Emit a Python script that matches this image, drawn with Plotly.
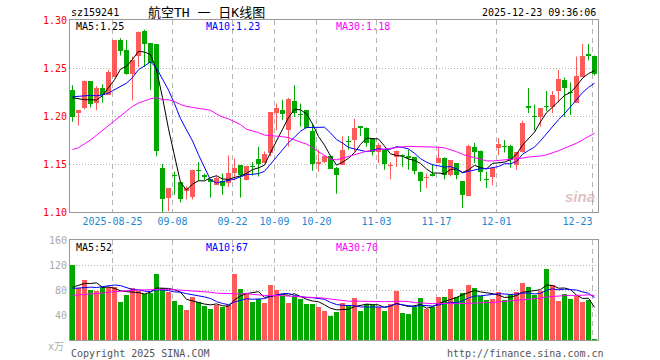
import numpy as np
import plotly.graph_objects as go

# ---------------- data ----------------
opens = [1.227, 1.203, 1.208, 1.236, 1.214, 1.229, 1.222, 1.241, 1.279, 1.269,
         1.244, 1.263, 1.289, 1.276, 1.275, 1.146, 1.115, 1.138, 1.131, 1.122,
         1.116, 1.144, 1.139, 1.134, 1.128, 1.132, 1.130, 1.141, 1.149, 1.133,
         1.148, 1.155, 1.151, 1.161, 1.203, 1.206, 1.185, 1.216, 1.202, 1.206,
         1.184, 1.150, 1.152, 1.158, 1.146, 1.149, 1.174, 1.175, 1.189, 1.187,
         1.176, 1.162, 1.165, 1.148, 1.157, 1.159, 1.158, 1.157, 1.142, 1.135,
         1.140, 1.151, 1.156, 1.139, 1.151, 1.132, 1.117, 1.168, 1.164, 1.134,
         1.136, 1.167, 1.169, 1.169, 1.149, 1.162, 1.210, 1.200, 1.199, 1.210,
         1.209, 1.226, 1.238, 1.225, 1.214, 1.241, 1.265, 1.263]
highs = [1.232, 1.206, 1.237, 1.236, 1.231, 1.233, 1.248, 1.279, 1.281, 1.279,
         1.262, 1.288, 1.290, 1.276, 1.275, 1.150, 1.125, 1.142, 1.131, 1.127,
         1.144, 1.152, 1.140, 1.134, 1.137, 1.140, 1.159, 1.156, 1.149, 1.148,
         1.152, 1.168, 1.163, 1.204, 1.213, 1.217, 1.219, 1.232, 1.213, 1.206,
         1.191, 1.165, 1.158, 1.158, 1.147, 1.179, 1.179, 1.197, 1.189, 1.188,
         1.176, 1.172, 1.165, 1.152, 1.164, 1.160, 1.165, 1.157, 1.142, 1.140,
         1.150, 1.168, 1.157, 1.154, 1.151, 1.132, 1.170, 1.172, 1.164, 1.142,
         1.147, 1.177, 1.175, 1.170, 1.162, 1.195, 1.229, 1.212, 1.208, 1.226,
         1.226, 1.248, 1.240, 1.235, 1.262, 1.275, 1.275, 1.263]
lows = [1.194, 1.190, 1.207, 1.209, 1.206, 1.214, 1.222, 1.241, 1.263, 1.243,
        1.216, 1.251, 1.251, 1.227, 1.158, 1.100, 1.101, 1.118, 1.110, 1.113,
        1.113, 1.132, 1.133, 1.115, 1.128, 1.118, 1.126, 1.133, 1.115, 1.133,
        1.138, 1.137, 1.151, 1.158, 1.185, 1.196, 1.168, 1.199, 1.189, 1.187,
        1.143, 1.142, 1.151, 1.145, 1.119, 1.149, 1.165, 1.163, 1.179, 1.168,
        1.159, 1.151, 1.144, 1.134, 1.147, 1.147, 1.144, 1.139, 1.121, 1.125,
        1.137, 1.151, 1.134, 1.137, 1.134, 1.104, 1.117, 1.151, 1.132, 1.125,
        1.128, 1.159, 1.162, 1.146, 1.144, 1.162, 1.203, 1.185, 1.189, 1.205,
        1.203, 1.214, 1.199, 1.201, 1.214, 1.241, 1.258, 1.242]
closes = [1.199, 1.206, 1.236, 1.213, 1.229, 1.222, 1.246, 1.279, 1.268, 1.244,
          1.258, 1.288, 1.275, 1.255, 1.164, 1.114, 1.125, 1.137, 1.114, 1.125,
          1.144, 1.143, 1.136, 1.131, 1.135, 1.127, 1.141, 1.146, 1.139, 1.148,
          1.147, 1.150, 1.160, 1.204, 1.208, 1.202, 1.218, 1.203, 1.201, 1.187,
          1.150, 1.152, 1.158, 1.145, 1.139, 1.165, 1.173, 1.187, 1.188, 1.172,
          1.163, 1.170, 1.150, 1.148, 1.164, 1.158, 1.156, 1.143, 1.132, 1.135,
          1.137, 1.156, 1.139, 1.154, 1.139, 1.118, 1.169, 1.163, 1.142, 1.133,
          1.146, 1.171, 1.168, 1.154, 1.162, 1.193, 1.208, 1.199, 1.208, 1.209,
          1.222, 1.239, 1.229, 1.224, 1.242, 1.263, 1.263, 1.244]
volumes = [120, 82.5, 96, 80, 78.5, 84.5, 85.5, 84.5, 60.5, 72,
           83.5, 79, 73, 75, 105.5, 82.5, 76.5, 62.5, 56, 48,
           68.5, 60.5, 54.5, 49.5, 56, 53.5, 56, 105.5, 81.5, 74.5,
           60.5, 65, 59.5, 88, 80.5, 71, 59.5, 71, 66, 58,
           58, 53, 46.5, 38.5, 45.5, 59.5, 56, 67.5, 46.5, 57.5,
           56, 53.5, 46.5, 57.5, 79, 43, 41.5, 53.5, 67, 49.5,
           53.5, 68.5, 68.5, 81.5, 68.5, 75, 88, 83, 70.5, 64,
           65.5, 76.5, 64, 73.5, 76.5, 91, 84.5, 72, 78.5, 113.5,
           88, 62.5, 73.5, 65.5, 70.5, 60.5, 64, 1.5]

# moving-average values at the start of the window (earlier history not shown)
ma5_head = [1.219, 1.218, 1.217, 1.217]
ma10_head = [1.220, 1.2205, 1.2215, 1.2215, 1.221, 1.222, 1.224, 1.2275, 1.231]
ma30_head = [1.165, 1.167, 1.171, 1.175, 1.180, 1.185, 1.191, 1.196, 1.201, 1.206,
             1.210, 1.2135, 1.216, 1.218, 1.219, 1.217, 1.217, 1.215, 1.212, 1.210,
             1.209, 1.208, 1.207, 1.206, 1.202, 1.199, 1.197, 1.194, 1.191]
vma5_head = [84.5, 88, 90.5, 90.5]
vma10_head = [82.5, 83.5, 84, 84.5, 84, 85.5, 87, 88, 87]
vma30_head = [71.5, 72, 72.5, 73, 74, 75, 76.5, 77.5, 78.5, 79,
              79.5, 80, 80.5, 81, 81, 81, 81, 80.5, 79.5, 78.5,
              78, 77.5, 77, 76.5, 75, 74.5, 74, 74, 73.5]

tick_idx = [7, 17, 27, 34, 41, 51, 61, 71, 87]
tick_labels = ["2025-08-25", "09-08", "09-22", "10-09", "10-20",
               "11-03", "11-17", "12-01", "12-23"]
price_ticks = [1.10, 1.15, 1.20, 1.25, 1.30]
vol_ticks = [40, 80, 120, 160]

symbol = "sz159241"
title = "航空TH 一 日K线图"
stamp = "2025-12-23 09:36:06"

# ---------------- derived ----------------
n = len(closes)
idx = np.arange(n)
o = np.array(opens); h = np.array(highs); l = np.array(lows); c = np.array(closes)
v = np.array(volumes)


def rolling(arr, w, head):
    vals = list(head)
    for i in range(w - 1, len(arr)):
        vals.append(float(np.mean(arr[i - w + 1:i + 1])))
    return np.array(vals)


ma5 = rolling(c, 5, ma5_head)
ma10 = rolling(c, 10, ma10_head)
ma30 = rolling(c, 30, ma30_head)
vma5 = rolling(v, 5, vma5_head)
vma10 = rolling(v, 10, vma10_head)
vma30 = rolling(v, 30, vma30_head)

RED = "#ff5a5a"
GREEN = "#00a800"
up = c >= o
colors = [RED if u else GREEN for u in up]

body_lo = np.minimum(o, c)
body_h = np.maximum(np.abs(c - o), 0.0011)

fig = go.Figure()

# wicks
for flag, col in ((True, RED), (False, GREEN)):
    xs, ys = [], []
    for i in idx[up == flag]:
        xs += [i, i, None]
        ys += [l[i], h[i], None]
    fig.add_trace(go.Scatter(x=xs, y=ys, mode="lines", line=dict(color=col, width=1),
                             hoverinfo="skip", xaxis="x", yaxis="y"))

# bodies
fig.add_trace(go.Bar(x=idx, y=body_h, base=body_lo, width=0.83,
                     marker=dict(color=colors, line=dict(width=0)),
                     xaxis="x", yaxis="y", hoverinfo="skip"))

for arr, col in ((ma5, "#000000"), (ma10, "#0000ff"), (ma30, "#ff00ff")):
    fig.add_trace(go.Scatter(x=idx, y=arr, mode="lines", line=dict(color=col, width=1),
                             xaxis="x", yaxis="y", hoverinfo="skip"))

# volume
fig.add_trace(go.Bar(x=idx, y=v, width=0.83, marker=dict(color=colors, line=dict(width=0)),
                     xaxis="x2", yaxis="y2", hoverinfo="skip"))
for arr, col in ((vma5, "#000000"), (vma10, "#0000ff"), (vma30, "#ff00ff")):
    fig.add_trace(go.Scatter(x=idx, y=arr, mode="lines", line=dict(color=col, width=1),
                             xaxis="x2", yaxis="y2", hoverinfo="skip"))

MONO = "DejaVu Sans Mono"
GRID = "#b4b4b4"
FRAME = "#999999"
L, R, T, B = 70, 62, 20, 20
W, H = 660, 360
PW, PH = W - L - R, H - T - B


def px(xp):
    return (xp - L) / PW


def py(yp):
    return (H - B - yp) / PH


tickpos = [t - 0.33 for t in tick_idx]
ticktext = list(tick_labels)
ticktext[-1] = ticktext[-1] + "\u00a0" * 5
xr = [-0.4167, n - 0.4167]

common_x = dict(range=xr, tickvals=tickpos, showgrid=True, gridcolor=GRID, griddash="5px,4px",
                gridwidth=1, showline=True, mirror=True, linecolor=FRAME, linewidth=1,
                ticks="", zeroline=False, fixedrange=True)

fig.update_layout(
    width=W, height=H, margin=dict(l=L, r=R, t=T, b=B),
    paper_bgcolor="white", plot_bgcolor="white", showlegend=False,
    barmode="overlay", bargap=0,
    xaxis=dict(**common_x, anchor="y", ticktext=ticktext,
               tickfont=dict(family=MONO, size=10, color="#1a88d0")),
    xaxis2=dict(**common_x, anchor="y2", matches="x", showticklabels=False),
    yaxis=dict(domain=[0.4, 1.0], range=[1.10, 1.30], tickvals=price_ticks,
               ticktext=[f"{t:.2f}" for t in price_ticks],
               tickfont=dict(family=MONO, size=10, color="#ff0000"),
               showgrid=True, gridcolor=GRID, griddash="1px,2px", gridwidth=1,
               showline=True, mirror=True, linecolor=FRAME, linewidth=1,
               ticks="", zeroline=False, fixedrange=True),
    yaxis2=dict(domain=[0.0, 0.3125], range=[0, 160], tickvals=vol_ticks,
                ticktext=[str(t) for t in vol_ticks],
                tickfont=dict(family=MONO, size=10, color="#aaaaaa"),
                showgrid=True, gridcolor=GRID, griddash="1px,2px", gridwidth=1,
                showline=True, mirror=True, linecolor=FRAME, linewidth=1,
                ticks="", zeroline=False, fixedrange=True),
)

ann = []


def text(s, x, y, color="#000", size=10, anchor="left", family=MONO, **kw):
    ann.append(dict(text=s, x=px(x), y=py(y), xref="paper", yref="paper",
                    xanchor=anchor, yanchor="middle", showarrow=False,
                    font=dict(family=family, size=size, color=color), **kw))


text(symbol, 69, 13)
text(title, 206, 12, size=13, anchor="center", family="DejaVu Sans Mono, Noto Sans CJK SC")
text(stamp, 598, 13, anchor="right")
text(f"MA5:{ma5[-1]:.2f}", 74, 27)
text(f"MA10:{ma10[-1]:.2f}", 204, 27, color="#0000ff")
text(f"MA30:{ma30[-1]:.2f}", 334, 27, color="#ff00ff")
text(f"MA5:{int(vma5[-1])}", 74, 247)
text(f"MA10:{int(vma10[-1])}", 204, 247, color="#0000ff")
text(f"MA30:{int(vma30[-1])}", 334, 247, color="#ff00ff")
text("x万", 66, 346, color="#aaaaaa", anchor="right", family="DejaVu Sans Mono, Noto Sans CJK SC")
text("Copyright 2025 SINA.COM", 69, 353, color="#555555")
text("http://finance.sina.com.cn", 606, 353, color="#555555", anchor="right")
text("<b><i>sina</i></b>", 580, 196, color="rgba(200,140,140,0.55)", size=15, anchor="center",
     family="Arial")
fig.update_layout(annotations=ann)

fig.write_html("out.html", config={"displayModeBar": False, "staticPlot": True},
               post_script="document.body.style.margin='0';document.body.style.overflow='hidden';")
